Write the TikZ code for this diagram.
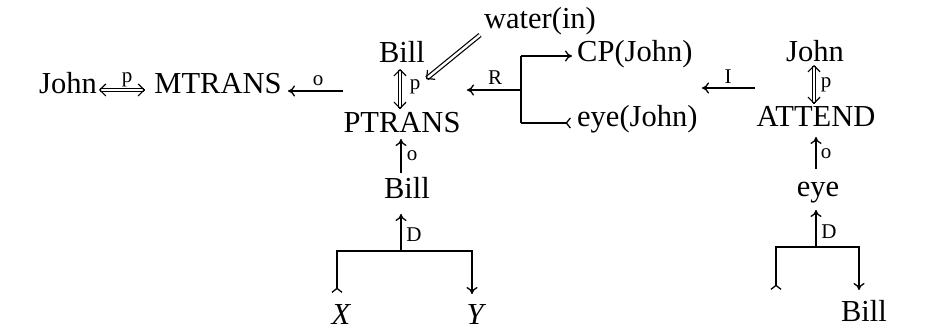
\documentclass[tikz,border=0pt]{standalone}
\usepackage{fontspec}
\setmainfont{Liberation Serif}
\usetikzlibrary{arrows.meta,calc}
\begin{document}
\begin{tikzpicture}[x=1pt,y=-1pt,
  big/.style={font=\fontsize{30.5}{34}\selectfont, inner sep=0pt, anchor=base},
  lab/.style={font=\fontsize{21}{23}\selectfont, inner sep=0pt},
  ln/.style={line width=1.3pt},
  arr/.style={line width=1.3pt, -{To[length=7pt,width=11pt]}},
  tail/.style={line width=1.3pt, -{Straight Barb[reversed,length=4pt,width=10pt]}},
  dline/.style={double, double distance=2.4pt, line width=1.2pt},
  dhead/.style={line width=1.2pt, -{Straight Barb[length=6pt,width=12pt]}}
]
\useasboundingbox (0,0) rectangle (946,331);

% nodes
\node[big] (john1) at (68,94) {John};
\node[big] (mtrans) at (218,94) {MTRANS};
\node[big] (bill1) at (402,63) {Bill};
\node[big] (ptrans) at (402,133) {PTRANS};
\node[big] (water) at (540,29) {water(in)};
\node[big, anchor=base west] (cp) at (577,62) {CP(John)};
\node[big, anchor=base west] (eyej) at (577,127) {eye(John)};
\node[big] (john2) at (815,62) {John};
\node[big] (attend) at (816,127) {ATTEND};
\node[big] (bill2) at (407,199) {Bill};
\node[big] (eye) at (818,197) {eye};
\node[big] (X) at (341,325) {\itshape X};
\node[big] (Y) at (475,325) {\itshape Y};
\node[big] (bill3) at (864,322) {Bill};

% coordinates
\coordinate (jm1) at (99,90);   \coordinate (jm2) at (145,90);
\coordinate (mo1) at (343,91);  \coordinate (mo2) at (288,91);
\coordinate (bp1) at (400,69);  \coordinate (bp2) at (400,109);
\coordinate (w1) at (480,35);   \coordinate (w2) at (426,79);
\coordinate (r1) at (521,90);   \coordinate (r2) at (467,90);
\coordinate (rt) at (521,56);   \coordinate (rb) at (521,123);
\coordinate (rte) at (572,56);  \coordinate (rbe) at (571,123);
\coordinate (i1) at (755,88);   \coordinate (i2) at (702,88);
\coordinate (ja1) at (814,65);  \coordinate (ja2) at (814,104);
\coordinate (eo1) at (816,169); \coordinate (eo2) at (816,137);
\coordinate (ed1) at (816,247); \coordinate (ed2) at (816,210);
\coordinate (el) at (776,247);  \coordinate (ele) at (776,290);
\coordinate (er) at (859,247);  \coordinate (ere) at (859,290);
\coordinate (bo1) at (401,173); \coordinate (bo2) at (401,139);
\coordinate (bd1) at (401,251); \coordinate (bd2) at (401,214);
\coordinate (bl) at (337,251);  \coordinate (ble) at (337,293);
\coordinate (br) at (472,251);  \coordinate (bre) at (472,294);

% double arrows
\draw[dline, shorten <=1pt, shorten >=1pt] (jm1) -- (jm2);
\draw[dhead] ($(jm1)!1pt!(jm2)$) -- (jm1);
\draw[dhead] ($(jm2)!1pt!(jm1)$) -- (jm2);
\draw[dline, shorten <=1pt, shorten >=1pt] (bp1) -- (bp2);
\draw[dhead] ($(bp1)!1pt!(bp2)$) -- (bp1);
\draw[dhead] ($(bp2)!1pt!(bp1)$) -- (bp2);
\draw[dline, shorten >=1pt] (w1) -- (w2);
\draw[dhead] ($(w2)!1pt!(w1)$) -- (w2);
\draw[dline, shorten <=1pt, shorten >=1pt] (ja1) -- (ja2);
\draw[dhead] ($(ja1)!1pt!(ja2)$) -- (ja1);
\draw[dhead] ($(ja2)!1pt!(ja1)$) -- (ja2);

% labels
\node[lab] at (127,80) {p};
\node[lab] at (318,81) {o};
\node[lab] at (415,87) {p};
\node[lab] at (495,78) {R};
\node[lab] at (728,77) {I};
\node[lab] at (826,85) {p};
\node[lab] at (826,154) {o};
\node[lab] at (829,232) {D};
\node[lab] at (412,156) {o};
\node[lab] at (414,235) {D};

% single connectors
\draw[arr] (mo1) -- (mo2);
\draw[arr] (r1) -- (r2);
\draw[arr] (rt) -- (rte);
\draw[ln] (rt) -- (rb);
\draw[tail] (rb) -- (rbe);
\draw[arr] (i1) -- (i2);
\draw[arr] (eo1) -- (eo2);
\draw[arr] (ed1) -- (ed2);
\draw[tail] (ed1) -- (el) -- (ele);
\draw[arr] (ed1) -- (er) -- (ere);
\draw[arr] (bo1) -- (bo2);
\draw[arr] (bd1) -- (bd2);
\draw[tail] (bd1) -- (bl) -- (ble);
\draw[arr] (bd1) -- (br) -- (bre);
\end{tikzpicture}
\end{document}
